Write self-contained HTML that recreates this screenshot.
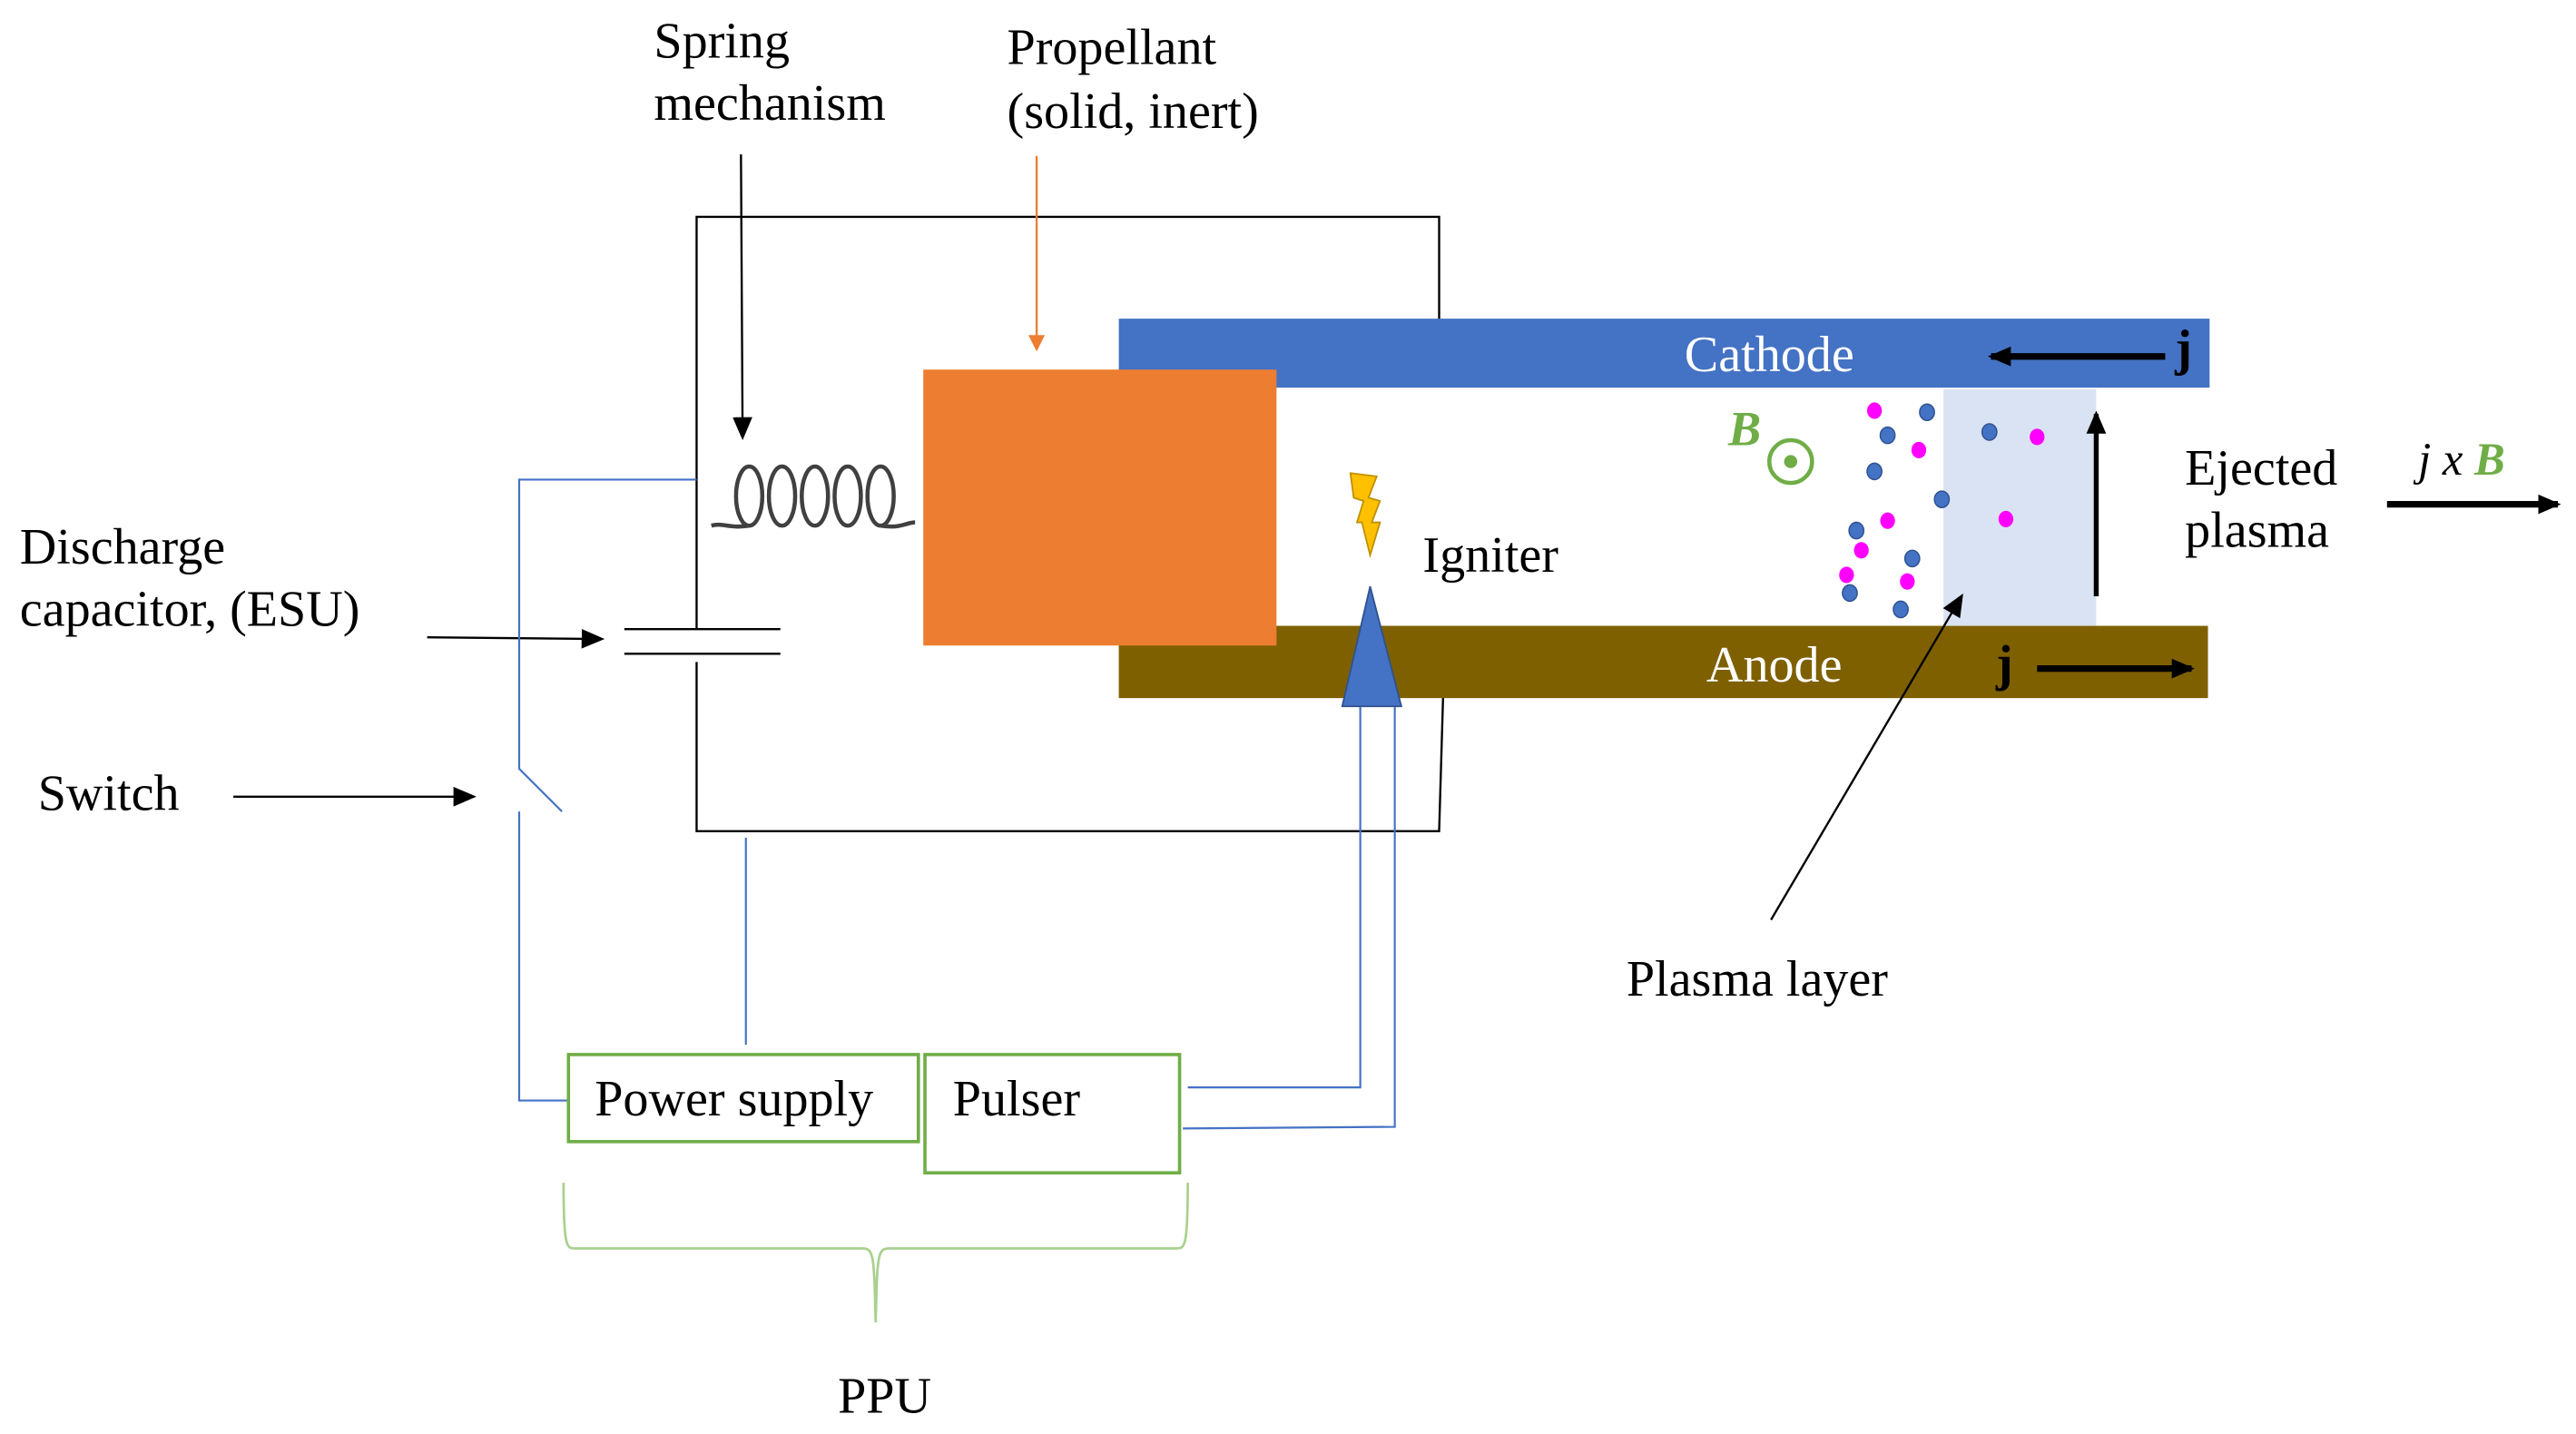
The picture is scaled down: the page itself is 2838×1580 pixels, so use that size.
<!DOCTYPE html>
<html><head><meta charset="utf-8"><style>html,body{margin:0;padding:0;background:#fff}svg{display:block}</style></head>
<body>
<svg width="2838" height="1580" viewBox="0 0 1568 873" xmlns="http://www.w3.org/2000/svg" font-family="Liberation Serif, serif">
<defs>
<marker id="abig" markerWidth="14" markerHeight="12" refX="12" refY="6" orient="auto" markerUnits="userSpaceOnUse"><path d="M0,0 L14,6 L0,12 z" fill="#000"/></marker>
<marker id="ao" markerWidth="10" markerHeight="10" refX="8" refY="5" orient="auto" markerUnits="userSpaceOnUse"><path d="M0,0 L10,5 L0,10 z" fill="#ED7D31"/></marker>
</defs>
<g font-size="31" fill="#000">
<text x="398" y="35">Spring</text>
<text x="398" y="73">mechanism</text>
<text x="613" y="39">Propellant</text>
<text x="613" y="78">(solid, inert)</text>
<text x="12" y="343">Discharge</text>
<text x="12" y="381">capacitor, (ESU)</text>
<text x="23" y="493">Switch</text>
<text x="866" y="348">Igniter</text>
<text x="1330" y="295">Ejected</text>
<text x="1330" y="333">plasma</text>
<text x="990" y="606">Plasma layer</text>
<text x="510" y="860">PPU</text>
<text x="362" y="679">Power supply</text>
<text x="580" y="679">Pulser</text>
</g>
<g stroke="#000" stroke-width="1.3" fill="none">
<polyline points="424,383 424,132 876,132 876,197"/>
<polyline points="424,403 424,506 876,506 879,404"/>
<line x1="380" y1="383" x2="475" y2="383"/>
<line x1="380" y1="398" x2="475" y2="398"/>
<line x1="451" y1="94" x2="452" y2="266" marker-end="url(#abig)"/>
<line x1="260" y1="388" x2="366" y2="389" marker-end="url(#abig)"/>
<line x1="142" y1="485" x2="288" y2="485" marker-end="url(#abig)"/>
</g>
<line x1="631" y1="95" x2="631" y2="212" stroke="#ED7D31" stroke-width="1.3" marker-end="url(#ao)"/>
<!-- spring -->
<g fill="none" stroke="#404040" stroke-width="2.5">
<ellipse cx="456" cy="302" rx="8" ry="18"/>
<ellipse cx="476" cy="302" rx="8" ry="18"/>
<ellipse cx="496" cy="302" rx="8" ry="18"/>
<ellipse cx="516" cy="302" rx="8" ry="18"/>
<ellipse cx="536" cy="302" rx="8" ry="18"/>
<path d="M433,320 C440,318 444,322 456,320"/>
<path d="M536,320 C548,322 552,318 557,318"/>
</g>
<g stroke="#4472C4" stroke-width="1.2" fill="none">
<polyline points="424,292 316,292 316,468 342,494"/>
<polyline points="316,494 316,670 345,670"/>
<line x1="454" y1="510" x2="454" y2="636"/>
<polyline points="723,662 828,662 828,430"/>
<polyline points="720,687 849,686 849,430"/>
</g>
<rect x="346" y="642" width="213" height="53" fill="none" stroke="#70AD47" stroke-width="2"/>
<rect x="563" y="642" width="155" height="72" fill="none" stroke="#70AD47" stroke-width="2"/>
<path d="M343,720 C343,760 345,760 350,760 L525,760 C532,760 532,765 533,805 C534,765 534,760 541,760 L716,760 C721,760 723,760 723,720" fill="none" stroke="#A9D18E" stroke-width="1.5"/>
<rect x="681" y="194" width="664" height="42" fill="#4472C4"/>
<rect x="681" y="381" width="663" height="44" fill="#7F6000"/>
<rect x="1183" y="237" width="93" height="144" fill="#DAE3F3"/>
<rect x="562" y="225" width="215" height="168" fill="#ED7D31"/>
<text x="1077" y="226" font-size="31" fill="#fff" text-anchor="middle">Cathode</text>
<text x="1080" y="415" font-size="31" fill="#fff" text-anchor="middle">Anode</text>
<text x="1324" y="222" font-size="31" font-weight="bold" fill="#000">j</text>
<text x="1215" y="414" font-size="31" font-weight="bold" fill="#000">j</text>
<line x1="1318" y1="217" x2="1212" y2="217" stroke="#000" stroke-width="4" marker-end="url(#abig)"/>
<line x1="1240" y1="407" x2="1334" y2="407" stroke="#000" stroke-width="4" marker-end="url(#abig)"/>
<line x1="1276" y1="363" x2="1276" y2="252" stroke="#000" stroke-width="3" marker-end="url(#abig)"/>
<line x1="1453" y1="307" x2="1557" y2="307" stroke="#000" stroke-width="4" marker-end="url(#abig)"/>
<line x1="1078" y1="560" x2="1194" y2="363" stroke="#000" stroke-width="1.3" marker-end="url(#abig)"/>
<text x="1472" y="289" font-size="28" font-style="italic" fill="#000">j x <tspan fill="#70AD47" font-weight="bold">B</tspan></text>
<text x="1052" y="271" font-size="30" font-style="italic" font-weight="bold" fill="#70AD47">B</text>
<circle cx="1090" cy="281" r="13" fill="none" stroke="#70AD47" stroke-width="2.5"/>
<circle cx="1090" cy="281" r="4" fill="#70AD47"/>
<polygon points="834,357 817,430 853,430" fill="#4472C4" stroke="#2F528F" stroke-width="1"/>
<polygon points="822,288 838,290 833,303 840,305 835,318 840,318 834,338 829,318 826,318 830,305 824,303" fill="#FFC000" stroke="#BF9000" stroke-width="1"/>
<g fill="#FF00FF">
<ellipse cx="1141" cy="250" rx="4.5" ry="5"/><ellipse cx="1168" cy="274" rx="4.5" ry="5"/><ellipse cx="1240" cy="266" rx="4.5" ry="5"/><ellipse cx="1149" cy="317" rx="4.5" ry="5"/><ellipse cx="1221" cy="316" rx="4.5" ry="5"/><ellipse cx="1133" cy="335" rx="4.5" ry="5"/><ellipse cx="1124" cy="350" rx="4.5" ry="5"/><ellipse cx="1161" cy="354" rx="4.5" ry="5"/>
</g>
<g fill="#4472C4" stroke="#2F528F" stroke-width="0.8">
<ellipse cx="1173" cy="251" rx="4.5" ry="5"/><ellipse cx="1149" cy="265" rx="4.5" ry="5"/><ellipse cx="1211" cy="263" rx="4.5" ry="5"/><ellipse cx="1141" cy="287" rx="4.5" ry="5"/><ellipse cx="1182" cy="304" rx="4.5" ry="5"/><ellipse cx="1130" cy="323" rx="4.5" ry="5"/><ellipse cx="1164" cy="340" rx="4.5" ry="5"/><ellipse cx="1126" cy="361" rx="4.5" ry="5"/><ellipse cx="1157" cy="371" rx="4.5" ry="5"/>
</g>
</svg>
</body></html>
